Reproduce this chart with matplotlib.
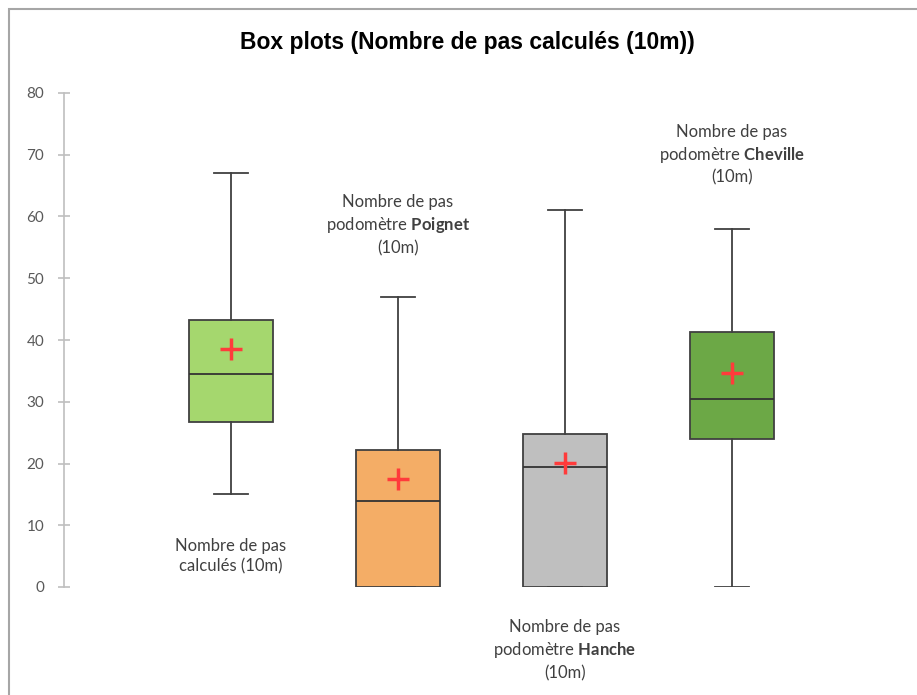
import matplotlib
matplotlib.use('Agg')
import matplotlib.pyplot as plt
from matplotlib.patches import Rectangle

# data
labels = ['Nombre de pas\ncalculés (10m)',
          'Nombre de pas\npodomètre $\\mathbf{Poignet}$\n(10m)',
          'Nombre de pas\npodomètre $\\mathbf{Hanche}$\n(10m)',
          'Nombre de pas\npodomètre $\\mathbf{Cheville}$\n(10m)']
label_y = [5.0, 58.6, -10.2, 70.0]
mins = [15, 0, 0, 0]
q1 = [26.7, 0, 0, 24.0]
medians = [34.5, 13.9, 19.4, 30.4]
q3 = [43.2, 22.2, 24.8, 41.3]
maxs = [67, 47, 61, 58]
means = [38.5, 17.5, 20.1, 34.7]
colors = ['#A5D76E', '#F4AD66', '#BFBFBF', '#6CA846']

plt.rcParams['font.family'] = ['Lato', 'DejaVu Sans']
plt.rcParams['mathtext.fontset'] = 'custom'
plt.rcParams['mathtext.rm'] = 'Lato'
plt.rcParams['mathtext.bf'] = 'Lato:bold'

fig = plt.figure(figsize=(9.17, 6.95), dpi=100)
ax = fig.add_axes([64/917, 108/695, 835/917, 494/695])

stats = []
for i in range(4):
    stats.append({'whislo': mins[i], 'q1': q1[i], 'med': medians[i],
                  'q3': q3[i], 'whishi': maxs[i], 'mean': means[i], 'fliers': []})

bp = ax.bxp(stats, positions=[1, 2, 3, 4], widths=0.5, patch_artist=True,
            showmeans=True, showfliers=False,
            boxprops=dict(edgecolor='#404040', linewidth=1.3),
            medianprops=dict(color='#333333', linewidth=1.3),
            whiskerprops=dict(color='#404040', linewidth=1.3),
            capprops=dict(color='#404040', linewidth=1.3),
            meanprops=dict(marker='+', markeredgecolor='#FF3B3B', markersize=16,
                           markeredgewidth=2.5))
for patch, c in zip(bp['boxes'], colors):
    patch.set_facecolor(c)
for cap in bp['caps']:
    x = cap.get_xdata()
    m = (x[0] + x[1]) / 2
    cap.set_xdata([m - 0.1, m + 0.1])

for i in range(4):
    ax.text(i + 1, label_y[i], labels[i], ha='center', va='center', fontsize=12,
            color='#404040', linespacing=1.35, clip_on=False)

ax.set_xlim(0, 5)
ax.set_ylim(0, 80)
ax.set_yticks(range(0, 81, 10))
ax.set_xticks([])
for s in ['top', 'right', 'bottom']:
    ax.spines[s].set_visible(False)
ax.spines['left'].set_color('#BFBFBF')
ax.spines['left'].set_linewidth(1.2)
ax.tick_params(axis='y', direction='inout', length=8.5, width=1.2, color='#BFBFBF',
               labelcolor='#595959', labelsize=11, pad=10)

fig.text(467/917, 1 - 43/695, 'Box plots (Nombre de pas calculés (10m))',
         ha='center', va='center', fontsize=16.5, fontweight='bold',
         family=['Liberation Sans Narrow', 'Liberation Sans'], color='black')

fig.patches.append(Rectangle((9/917, -0.1), 1.2, 1 - 9/695 + 0.1, transform=fig.transFigure,
                             fill=False, edgecolor='#A6A6A6', linewidth=1.5))

fig.savefig('out.png', dpi=100)
